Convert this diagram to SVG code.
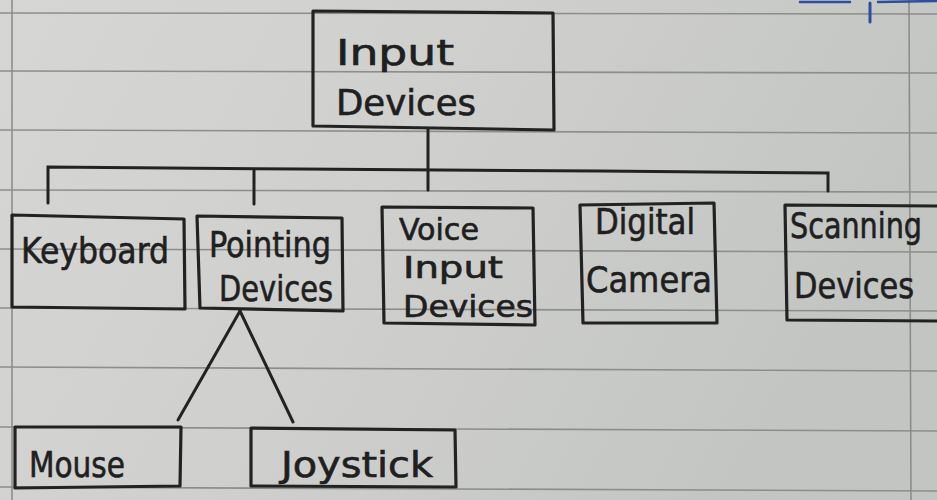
<svg xmlns="http://www.w3.org/2000/svg" width="937" height="500" viewBox="0 0 937 500">
  <defs>
    <linearGradient id="paper" x1="0" y1="0" x2="1" y2="0.3">
      <stop offset="0" stop-color="#d6d7d4"/>
      <stop offset="0.5" stop-color="#cfd0cd"/>
      <stop offset="1" stop-color="#c3c5c3"/>
    </linearGradient>
  </defs>
  <style>
    .rule { stroke: #8c8e8c; stroke-width: 1.6; fill: none; }
    .box { fill: none; stroke: #222; stroke-width: 3.2; stroke-linejoin: round; stroke-linecap: round; }
    .conn { fill: none; stroke: #222; stroke-width: 3; stroke-linecap: round; }
    .t { font-family: "DejaVu Sans Condensed", "DejaVu Sans", sans-serif; font-size: 36px; fill: #1f1f1f; stroke: #1f1f1f; stroke-width: 0.6; }
    .s { font-size: 31px; }
  </style>
  <rect x="0" y="0" width="937" height="500" fill="url(#paper)"/>
  <g id="paper-lines">
    <path class="rule" d="M0 13 L937 14"/>
    <path class="rule" d="M0 71 L937 73"/>
    <path class="rule" d="M0 130 L937 133"/>
    <path class="rule" d="M0 190 L937 192"/>
    <path class="rule" d="M0 249 L937 252"/>
    <path class="rule" d="M0 308 L937 311"/>
    <path class="rule" d="M0 367 L937 371"/>
    <path class="rule" d="M0 427 L937 431"/>
    <path class="rule" d="M0 487 L937 491"/>
    <path class="rule" d="M12 0 L12 500"/>
    <path class="rule" d="M909 0 L911 500"/>
  </g>
  <g id="blue-pen-mark" fill="none" stroke="#2b4f9e" stroke-linecap="round">
    <path d="M870 3 L870 22" stroke-width="3"/>
    <path d="M800 2 L850 2 M878 2 L937 1" stroke-width="2.5"/>
  </g>

  <g id="connectors">
    <path class="conn" d="M428 129 L428 190"/>
    <path class="conn" d="M48 203 L48 167 L300 169 L600 171 L828 173 L828 191"/>
    <path class="conn" d="M254 170 L254 204"/>
    <path class="conn" d="M240 311 L178 420"/>
    <path class="conn" d="M240 311 L293 422"/>
  </g>

  <g id="node-input-devices">
    <path class="box" d="M313 11 L553 13 L554 130 L313 126 Z"/>
    <text class="t" x="336" y="65" textLength="118" lengthAdjust="spacingAndGlyphs">Input</text>
    <text class="t" x="336" y="115" textLength="140" lengthAdjust="spacingAndGlyphs">Devices</text>
  </g>
  <g id="node-keyboard">
    <path class="box" d="M12 215 L184 219 L185 309 L12 307 Z"/>
    <text class="t" x="21" y="263" textLength="148" lengthAdjust="spacingAndGlyphs">Keyboard</text>
  </g>
  <g id="node-pointing-devices">
    <path class="box" d="M197 216 L342 218 L343 311 L200 308 Z"/>
    <text class="t" x="209" y="257" textLength="122" lengthAdjust="spacingAndGlyphs">Pointing</text>
    <text class="t" x="219" y="301" textLength="114" lengthAdjust="spacingAndGlyphs">Devices</text>
  </g>
  <g id="node-voice-input-devices">
    <path class="box" d="M382 207 L533 208 L535 325 L384 323 Z"/>
    <text class="t s" x="399" y="240" textLength="80" lengthAdjust="spacingAndGlyphs">Voice</text>
    <text class="t s" x="403" y="278" textLength="100" lengthAdjust="spacingAndGlyphs">Input</text>
    <text class="t s" x="403" y="317" textLength="130" lengthAdjust="spacingAndGlyphs">Devices</text>
  </g>
  <g id="node-digital-camera">
    <path class="box" d="M580 205 L714 203 L717 323 L583 323 Z"/>
    <text class="t" x="595" y="234" textLength="100" lengthAdjust="spacingAndGlyphs">Digital</text>
    <text class="t" x="586" y="292" textLength="126" lengthAdjust="spacingAndGlyphs">Camera</text>
  </g>
  <g id="node-scanning-devices">
    <path class="box" d="M937 206 L785 205 L787 320 L937 321"/>
    <text class="t" x="790" y="238" textLength="132" lengthAdjust="spacingAndGlyphs">Scanning</text>
    <text class="t" x="794" y="298" textLength="120" lengthAdjust="spacingAndGlyphs">Devices</text>
  </g>
  <g id="node-mouse">
    <path class="box" d="M15 427 L181 427 L180 486 L15 488 Z"/>
    <text class="t" x="29" y="477" textLength="96" lengthAdjust="spacingAndGlyphs">Mouse</text>
  </g>
  <g id="node-joystick">
    <path class="box" d="M251 428 L455 430 L456 487 L251 486 Z"/>
    <text class="t" x="281" y="477" textLength="152" lengthAdjust="spacingAndGlyphs">Joystick</text>
  </g>
</svg>
